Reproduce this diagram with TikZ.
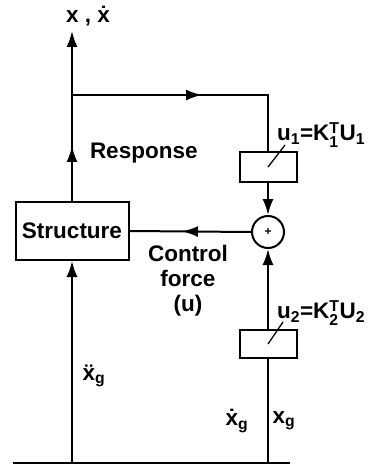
\documentclass[tikz,border=0pt]{standalone}
\usepackage{fontspec}
\usepackage{amsmath}
\setmainfont{Liberation Sans}
\usetikzlibrary{arrows.meta,decorations.markings}
\begin{document}
\begin{tikzpicture}[x=1pt,y=1pt, line width=2pt,
  every node/.style={font=\fontsize{22.5}{25}\selectfont\bfseries},
  tip/.style={-{Latex[length=16pt,width=11pt]}},
  midtip/.style={postaction={decorate,decoration={markings,
      mark=at position #1 with {\arrow{Latex[length=16pt,width=11pt]}}}}},
  box/.style={draw, minimum width=57pt, minimum height=30pt, inner sep=0pt},
  slash/.style={line width=1.3pt},
  lbl/.style={inner sep=0pt}]
\useasboundingbox (0,-470) rectangle (369,0);
% blocks
\node[box, minimum width=113pt, minimum height=58pt] (struct) at (72,-231) {Structure};
\node[box] (k1) at (268,-167) {};
\node[box, minimum height=28pt] (k2) at (268,-344) {};
\node[draw, circle, minimum size=32pt, inner sep=0pt,
      font=\fontsize{12}{12}\selectfont\bfseries] (sum) at (268,-232) {+};
% coordinates
\coordinate (top) at (72,-31);
\coordinate (branch) at (72,-95);
\coordinate (corner) at (268,-95);
\coordinate (gl) at (13,-463);
\coordinate (gr) at (290,-463);
\coordinate (g1) at (72,-463);
\coordinate (g2) at (268,-463);
% connectors
\draw (gl) -- (gr);
\draw[tip] (g1) -- (struct.south);
\draw[tip, midtip=55pt] (struct.north) -- (top);
\draw[midtip=130pt] (branch) -- (corner) -- (k1.north);
\draw[tip] (k1.south) -- (sum.north);
\draw[midtip=69pt] (sum.west) -- (struct.east);
\draw (g2) -- (k2.south);
\draw[tip] (k2.north) -- (sum.south);
% gain slashes
\draw[slash] (k1.center) -- ++(17,22);
\draw[slash] (k2.center) -- ++(15,22);
% labels
\node[lbl] (xlab) at (88,-16) {x , ẋ};
\node[lbl, anchor=west] (resplab) at (89,-153) {Response};
\node[lbl, anchor=west] (u1lab) at (276,-135) {u$_{\text{1}}$=K$^{\text{T}}_{\text{1}}$U$_{\text{1}}$};
\node[lbl, anchor=west] (u2lab) at (276,-313) {u$_{\text{2}}$=K$^{\text{T}}_{\text{2}}$U$_{\text{2}}$};
\node[lbl, align=center] (ctrl) at (188,-281) {Control\\force\\(u)};
\node[lbl] (xgdd) at (94,-376) {ẍ$_{\text{g}}$};
\node[lbl] (xgd) at (237,-421) {ẋ$_{\text{g}}$};
\node[lbl] (xg) at (284,-421) {x$_{\text{g}}$};
\end{tikzpicture}
\end{document}
